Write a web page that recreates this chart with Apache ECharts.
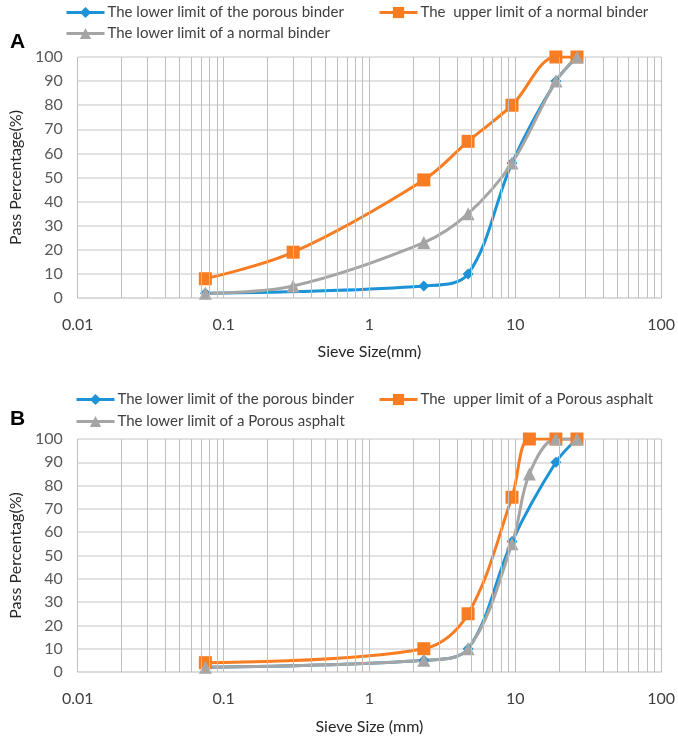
<!DOCTYPE html>
<html><head><meta charset="utf-8">
<script src="https://cdn.jsdelivr.net/npm/echarts@6/dist/echarts.min.js"></script>
<style>html,body{margin:0;padding:0;background:#fff}#c{width:678px;height:742px}</style>
</head><body><div id="c"></div>
<script>
// ---- data ----
const sieveA = [0.075, 0.3, 2.36, 4.75, 9.5, 19, 26.5];
const porousBinderLowerX = [0.075, 2.36, 4.75, 9.5, 19, 26.5];
const porousBinderLowerY = [2, 5, 10, 56, 90, 100];
const normalBinderUpper = [8, 19, 49, 65, 80, 100, 100];
const normalBinderLower = [2, 5, 23, 35, 56, 90, 100];
const sieveB = [0.075, 2.36, 4.75, 9.5, 12.5, 19, 26.5];
const porousAsphaltUpper = [4, 10, 25, 75, 100, 100, 100];
const porousAsphaltLower = [2, 5, 10, 55, 85, 100, 100];
const gridXValues = [0.01,0.02,0.03,0.04,0.05,0.06,0.07,0.08,0.09,
  0.1,0.2,0.3,0.4,0.5,0.6,0.7,0.8,0.9,
  1,2,3,4,5,6,7,8,9,
  10,20,30,40,50,60,70,80,90,100];
const nameBlue = 'The lower limit of the porous binder';
const nameOrangeA = 'The  upper limit of a normal binder';
const nameGrayA = 'The lower limit of a normal binder';
const nameOrangeB = 'The  upper limit of a Porous asphalt';
const nameGrayB = 'The lower limit of a Porous asphalt';

const BLUE = '#1C93D6', ORANGE = '#F87C22', GRAY = '#A5A5A5';
const FONT = 'Lato';
const pairs = (xs, ys) => xs.map((x, i) => [x, ys[i]]);

function lineSeries(name, color, symbol, size, data, idx) {
  return {
    type: 'line', name, xAxisIndex: idx, yAxisIndex: idx, data,
    smooth: 0.35, symbol, symbolSize: size, showSymbol: true,
    lineStyle: { color, width: 3 }, itemStyle: { color },
    z: 3
  };
}
function gridSeries(idx) {
  return {
    type: 'line', name: 'grid' + idx, xAxisIndex: idx, yAxisIndex: idx, data: [],
    silent: true, z: 1,
    markLine: {
      silent: true, symbol: 'none', animation: false,
      label: { show: false },
      lineStyle: { color: '#BEBEBE', width: 1, type: 'solid' },
      emphasis: { disabled: true },
      data: gridXValues.map(v => ({ xAxis: v }))
    }
  };
}
function xAxis(idx, name, gap) {
  return {
    type: 'log', logBase: 10, min: 0.01, max: 100, gridIndex: idx,
    name, nameLocation: 'middle', nameGap: gap,
    nameTextStyle: { fontFamily: FONT, fontSize: 16, color: '#262626' },
    axisLine: { show: true, lineStyle: { color: '#D9D9D9', width: 1.5 } },
    axisTick: { show: false }, splitLine: { show: false },
    axisLabel: { margin: 19, fontFamily: FONT, fontSize: 16, color: '#404040',
      formatter: v => String(+(+v).toPrecision(6)) }
  };
}
function yAxis(idx, name) {
  return {
    type: 'value', min: 0, max: 100, interval: 10, gridIndex: idx,
    name, nameLocation: 'middle', nameRotate: 90, nameGap: 50,
    nameTextStyle: { fontFamily: FONT, fontSize: 16, color: '#262626' },
    axisLine: { show: false }, axisTick: { show: false },
    splitLine: { lineStyle: { color: '#D9D9D9', width: 1.5 } },
    axisLabel: { margin: 15, fontFamily: FONT, fontSize: 16, color: '#595959' }
  };
}
function legend(name, left, top) {
  return {
    data: [name], left, top, itemWidth: 38, itemHeight: 14, itemGap: 0,
    selectedMode: false,
    lineStyle: { width: 3 },
    textStyle: { fontFamily: FONT, fontSize: 15, color: '#404040', padding: [0, 0, 0, -2] }
  };
}

const option = {
  animation: false,
  backgroundColor: '#fff',
  grid: [
    { left: 73, right: 13, top: 57, height: 241 },
    { left: 76, right: 11, top: 439, height: 233 }
  ],
  xAxis: [xAxis(0, 'Sieve Size(mm)', 46), xAxis(1, 'Sieve Size (mm)', 47)],
  yAxis: [yAxis(0, 'Pass Percentage(%)'), yAxis(1, 'Pass Percentag(%)')],
  legend: [
    legend(nameBlue, 60, 0),
    legend(nameOrangeA, 373, 0),
    legend(nameGrayA, 60, 21),
    legend(nameBlue, 70, 387),
    legend(nameOrangeB, 373, 387),
    legend(nameGrayB, 70, 409)
  ],
  graphic: [
    { type: 'text', left: 10, top: 32, style: { text: 'A', font: 'bold 21px "Liberation Sans"', fill: '#000' } },
    { type: 'text', left: 10, top: 409, style: { text: 'B', font: 'bold 21px "Liberation Sans"', fill: '#000' } }
  ],
  series: [
    gridSeries(0),
    gridSeries(1),
    lineSeries(nameBlue, BLUE, 'diamond', 11, pairs(porousBinderLowerX, porousBinderLowerY), 0),
    lineSeries(nameOrangeA, ORANGE, 'rect', 13, pairs(sieveA, normalBinderUpper), 0),
    lineSeries(nameGrayA, GRAY, 'triangle', 13, pairs(sieveA, normalBinderLower), 0),
    lineSeries(nameBlue, BLUE, 'diamond', 11, pairs(porousBinderLowerX, porousBinderLowerY), 1),
    lineSeries(nameOrangeB, ORANGE, 'rect', 13, pairs(sieveB, porousAsphaltUpper), 1),
    lineSeries(nameGrayB, GRAY, 'triangle', 13, pairs(sieveB, porousAsphaltLower), 1)
  ]
};
const chart = echarts.init(document.getElementById('c'), null, { renderer: 'canvas' });
chart.setOption(option);
</script>
</body></html>
